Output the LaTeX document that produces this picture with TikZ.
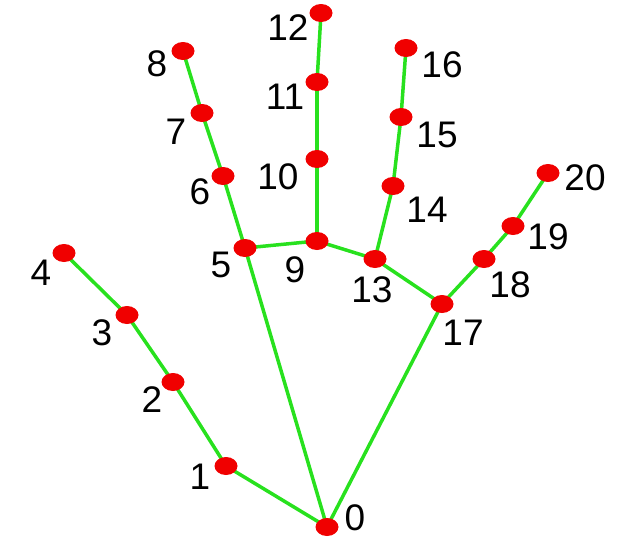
\documentclass[tikz,border=0pt]{standalone}
\usepackage{fontspec}
\setmainfont{Liberation Sans}
\usetikzlibrary{shapes, backgrounds}
\definecolor{bonegreen}{RGB}{40,225,30}
\definecolor{jointred}{RGB}{240,0,0}
\begin{document}
\begin{tikzpicture}[x=1pt,y=-1pt,
	joint/.style={ellipse, fill=jointred, inner sep=0pt, minimum width=23pt, minimum height=18pt},
	num/.style={inner sep=0pt, font=\fontsize{37}{42}\selectfont},
	bone/.style={draw=bonegreen, line width=3.5pt}]
	\useasboundingbox (0,0) rectangle (626,557);
	% joints
	\foreach \n/\x/\y in {0/327/527, 1/226/466, 2/173/382, 3/127/315, 4/64/253,
		5/245/248, 6/223/176, 7/202/113, 8/183/51,
		9/317/241, 10/317/159, 11/317/82, 12/321/13,
		13/375/259, 14/393/186, 15/401/117, 16/406/48,
		17/442/304, 18/484/259, 19/513/226, 20/548/173}
		\node[joint] (p\n) at (\x,\y) {};
	% numbers
	\foreach \n/\x/\y in {0/355/518, 1/200/477, 2/152/400, 3/102/333, 4/41/273,
		5/221/265, 6/200/192, 7/176/132, 8/157/64,
		9/295/270, 10/278/177, 11/285/97, 12/288/28,
		13/372/290, 14/427/210, 15/437/135, 16/442/65,
		17/463/333, 18/510/285, 19/548/237, 20/585/178}
		\node[num] (l\n) at (\x,\y) {\n};
	% bones
	\begin{scope}[on background layer]
	\foreach \a/\b in {0/1, 1/2, 2/3, 3/4, 0/5, 5/6, 6/7, 7/8, 5/9, 9/10, 10/11, 11/12,
		9/13, 13/14, 14/15, 15/16, 13/17, 0/17, 17/18, 18/19, 19/20}
		\draw[bone] (p\a.center) -- (p\b.center);
	\end{scope}
\end{tikzpicture}
\end{document}
